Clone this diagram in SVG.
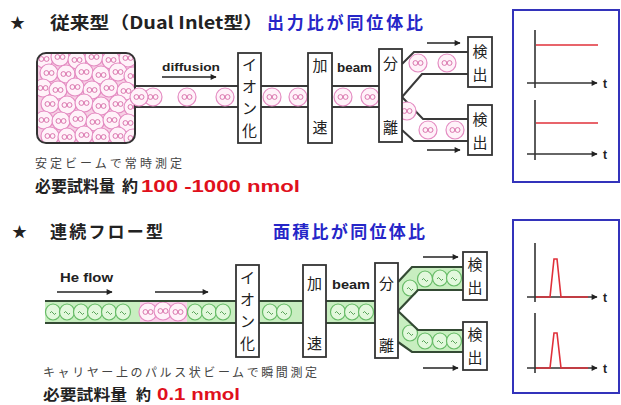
<svg xmlns="http://www.w3.org/2000/svg" width="621" height="405" viewBox="0 0 621 405">
  <style>
    .box { fill: #ffffff; stroke: #333333; stroke-width: 1.8; }
    .tube { fill: none; stroke: #3a3a3a; stroke-width: 2; }
    .gtube { fill: none; stroke: #344a34; stroke-width: 2.2; }
    .arrow { fill: none; stroke: #222222; stroke-width: 1.6; marker-end: url(#head); }
    .axis { fill: none; stroke: #333333; stroke-width: 1.6; marker-end: url(#head); }
    .vaxis { fill: none; stroke: #333333; stroke-width: 1.6; }
    .panel { fill: #ffffff; stroke: #3333bb; stroke-width: 2; }
    .sig { fill: none; stroke: #e0303a; stroke-width: 1.6; }
    .jp { font-family: "Noto Sans CJK JP", "Noto Sans", sans-serif; }
    .lbl { font-family: "Noto Sans CJK JP", sans-serif; font-size: 15px; fill: #222222; text-anchor: middle; }
    .en { font-family: "Liberation Sans", Arial, sans-serif; font-weight: bold; fill: #222222; }
    .title { font-size: 17px; font-weight: bold; fill: #222222; }
    .blue { font-size: 17px; font-weight: bold; fill: #2626c8; }
    .red { fill: #e0101c; }
  </style>
  <defs>
    <marker id="head" viewBox="0 0 10 10" refX="9" refY="5" markerWidth="7" markerHeight="6" markerUnits="userSpaceOnUse" orient="auto">
      <path d="M0,0 L10,5 L0,10 z" fill="#222222"/>
    </marker>
    <!-- pink sample molecule -->
    <g id="pm">
      <circle r="9" fill="#fff2f9" stroke="#e48cc2" stroke-width="1.2"/>
      <circle cx="-2.6" cy="0" r="2.4" fill="none" stroke="#d66aa6" stroke-width="0.9"/>
      <circle cx="2.6" cy="0" r="2.4" fill="none" stroke="#d66aa6" stroke-width="0.9"/>
    </g>
    <!-- green carrier molecule -->
    <g id="gm">
      <ellipse rx="7.5" ry="8" fill="#e2f8dc" stroke="#66bb66" stroke-width="1.2"/>
      <path d="M-3,1 q1.5,-3 3,0 q1.5,3 3,0" fill="none" stroke="#4a9a4a" stroke-width="0.9"/>
    </g>
    <clipPath id="resClip">
      <rect x="37" y="53" width="98" height="90" rx="9"/>
    </clipPath>
  </defs>

  <rect width="621" height="405" fill="#ffffff"/>

  <!-- headings -->
  <g id="heading-dual">
    <text x="10" y="28" class="jp" font-size="15" fill="#222">★</text>
    <text x="50" y="29" class="jp title" textLength="213" lengthAdjust="spacingAndGlyphs">従来型（Dual Inlet型）</text>
    <text x="267" y="29" class="jp blue" textLength="156" lengthAdjust="spacing">出力比が同位体比</text>
  </g>
  <g id="heading-flow">
    <text x="12" y="237" class="jp" font-size="15" fill="#222">★</text>
    <text x="50" y="238" class="jp title" textLength="113" lengthAdjust="spacing">連続フロー型</text>
    <text x="273" y="238" class="jp blue" textLength="152" lengthAdjust="spacing">面積比が同位体比</text>
  </g>

  <!-- connectors: gas lines, beams and flow arrows -->
  <g id="connectors">
    <!-- dual inlet line -->
    <rect x="135" y="86" width="244" height="21" fill="#ffffff"/>
    <line x1="135" y1="86" x2="379" y2="86" class="tube"/>
    <line x1="135" y1="107" x2="379" y2="107" class="tube"/>
    <use href="#pm" x="153" y="97"/>
    <use href="#pm" x="187" y="97"/>
    <use href="#pm" x="225" y="97"/>
    <use href="#pm" x="272" y="97"/>
    <use href="#pm" x="298" y="97"/>
    <use href="#pm" x="343" y="97"/>
    <use href="#pm" x="370" y="97"/>
    <!-- split beams -->
    <path d="M402,64 L414,52 L468,52" class="tube"/>
    <path d="M402,97 L422,74 L468,74" class="tube"/>
    <path d="M402,97 L423,119 L468,119" class="tube"/>
    <path d="M402,130 L414,141 L468,141" class="tube"/>
    <use href="#pm" x="418" y="63"/>
    <use href="#pm" x="447" y="63"/>
    <use href="#pm" x="407" y="111"/>
    <use href="#pm" x="428" y="130"/>
    <use href="#pm" x="455" y="130"/>
    <line x1="162" y1="77" x2="216" y2="77" class="arrow"/>
    <line x1="427" y1="43" x2="460" y2="43" class="arrow"/>
    <line x1="427" y1="150" x2="460" y2="150" class="arrow"/>

    <!-- continuous flow line -->
    <rect x="45" y="301" width="330" height="22" fill="#c8eec0"/>
    <rect x="140" y="301" width="47" height="22" fill="#f9d2ea"/>
    <use href="#gm" x="53" y="312"/>
    <use href="#gm" x="67" y="312"/>
    <use href="#gm" x="81" y="312"/>
    <use href="#gm" x="95" y="312"/>
    <use href="#gm" x="109" y="312"/>
    <use href="#gm" x="123" y="312"/>
    <use href="#pm" x="148" y="312"/>
    <use href="#pm" x="163" y="311"/>
    <use href="#pm" x="178" y="312"/>
    <use href="#gm" x="195" y="312"/>
    <use href="#gm" x="209" y="312"/>
    <use href="#gm" x="223" y="312"/>
    <use href="#gm" x="270" y="312"/>
    <use href="#gm" x="284" y="312"/>
    <use href="#gm" x="338" y="312"/>
    <use href="#gm" x="352" y="312"/>
    <use href="#gm" x="366" y="312"/>
    <line x1="45" y1="301" x2="375" y2="301" class="gtube"/>
    <line x1="45" y1="323" x2="375" y2="323" class="gtube"/>
    <polygon points="398,282 412,267 463,267 463,290 418,290 398,311" fill="#c8eec0"/>
    <polygon points="398,311 418,330 463,330 463,352 412,352 398,342" fill="#c8eec0"/>
    <use href="#gm" x="410" y="288"/>
    <use href="#gm" x="425" y="279"/>
    <use href="#gm" x="440" y="278"/>
    <use href="#gm" x="454" y="278"/>
    <use href="#gm" x="410" y="333"/>
    <use href="#gm" x="425" y="341"/>
    <use href="#gm" x="440" y="341"/>
    <use href="#gm" x="454" y="341"/>
    <path d="M398,282 L412,267 L463,267" class="gtube"/>
    <path d="M398,311 L418,290 L463,290" class="gtube"/>
    <path d="M398,311 L418,330 L463,330" class="gtube"/>
    <path d="M398,342 L412,352 L463,352" class="gtube"/>
    <line x1="57" y1="292" x2="112" y2="292" class="arrow"/>
    <line x1="155" y1="292" x2="208" y2="292" class="arrow"/>
    <line x1="423" y1="257" x2="458" y2="257" class="arrow"/>
    <line x1="423" y1="368" x2="458" y2="368" class="arrow"/>
  </g>

  <!-- flow labels -->
  <text x="162" y="71" class="en" font-size="11" textLength="58" lengthAdjust="spacingAndGlyphs">diffusion</text>
  <text x="337" y="72" class="en" font-size="12" textLength="35" lengthAdjust="spacingAndGlyphs">beam</text>
  <text x="60" y="282" class="en" font-size="12" textLength="53" lengthAdjust="spacingAndGlyphs">He flow</text>
  <text x="332" y="289" class="en" font-size="12" textLength="38" lengthAdjust="spacingAndGlyphs">beam</text>

  <!-- sample reservoir -->
  <g id="reservoir">
    <rect x="37" y="53" width="98" height="90" rx="9" fill="#f7cfe4"/>
    <g clip-path="url(#resClip)">
      <use href="#pm" x="44" y="59"/><use href="#pm" x="60" y="57"/><use href="#pm" x="77" y="60"/><use href="#pm" x="94" y="57"/><use href="#pm" x="111" y="60"/><use href="#pm" x="128" y="58"/>
      <use href="#pm" x="49" y="73"/><use href="#pm" x="66" y="74"/><use href="#pm" x="84" y="72"/><use href="#pm" x="101" y="75"/><use href="#pm" x="118" y="72"/><use href="#pm" x="133" y="76"/>
      <use href="#pm" x="43" y="88"/><use href="#pm" x="58" y="90"/><use href="#pm" x="75" y="87"/><use href="#pm" x="92" y="90"/><use href="#pm" x="109" y="88"/><use href="#pm" x="126" y="91"/>
      <use href="#pm" x="50" y="104"/><use href="#pm" x="67" y="105"/><use href="#pm" x="84" y="103"/><use href="#pm" x="101" y="106"/><use href="#pm" x="118" y="104"/><use href="#pm" x="133" y="107"/>
      <use href="#pm" x="44" y="120"/><use href="#pm" x="61" y="121"/><use href="#pm" x="78" y="119"/><use href="#pm" x="95" y="122"/><use href="#pm" x="112" y="120"/><use href="#pm" x="128" y="123"/>
      <use href="#pm" x="50" y="136"/><use href="#pm" x="67" y="137"/><use href="#pm" x="84" y="135"/><use href="#pm" x="101" y="137"/><use href="#pm" x="118" y="136"/><use href="#pm" x="133" y="138"/>
    </g>
    <rect x="37" y="53" width="98" height="90" rx="9" fill="none" stroke="#333" stroke-width="2"/>
    <use href="#pm" x="139" y="97"/>
  </g>

  <!-- dual inlet instrument blocks -->
  <g id="ionize-dual">
    <rect x="238" y="53" width="23" height="90" class="box"/>
    <text x="249.5" y="70" class="lbl">イ</text>
    <text x="249.5" y="92" class="lbl">オ</text>
    <text x="249.5" y="114" class="lbl">ン</text>
    <text x="249.5" y="136" class="lbl">化</text>
  </g>
  <g id="accel-dual">
    <rect x="308" y="53" width="24" height="90" class="box"/>
    <text x="320" y="71" class="lbl">加</text>
    <text x="320" y="133" class="lbl">速</text>
  </g>
  <g id="separate-dual">
    <rect x="379" y="49" width="23" height="93" class="box"/>
    <text x="390.5" y="69" class="lbl">分</text>
    <text x="390.5" y="133" class="lbl">離</text>
  </g>
  <g id="detector-dual-1">
    <rect x="468" y="37" width="24" height="50" class="box"/>
    <text x="480" y="57" class="lbl">検</text>
    <text x="480" y="80" class="lbl">出</text>
  </g>
  <g id="detector-dual-2">
    <rect x="468" y="105" width="24" height="50" class="box"/>
    <text x="480" y="125" class="lbl">検</text>
    <text x="480" y="148" class="lbl">出</text>
  </g>

  <!-- continuous flow instrument blocks -->
  <g id="ionize-flow">
    <rect x="236" y="265" width="23" height="92" class="box"/>
    <text x="247.5" y="283" class="lbl">イ</text>
    <text x="247.5" y="305" class="lbl">オ</text>
    <text x="247.5" y="327" class="lbl">ン</text>
    <text x="247.5" y="349" class="lbl">化</text>
  </g>
  <g id="accel-flow">
    <rect x="303" y="265" width="23" height="92" class="box"/>
    <text x="314.5" y="289" class="lbl">加</text>
    <text x="314.5" y="349" class="lbl">速</text>
  </g>
  <g id="separate-flow">
    <rect x="375" y="263" width="23" height="95" class="box"/>
    <text x="386.5" y="289" class="lbl">分</text>
    <text x="386.5" y="351" class="lbl">離</text>
  </g>
  <g id="detector-flow-1">
    <rect x="463" y="252" width="24" height="48" class="box"/>
    <text x="475" y="270" class="lbl">検</text>
    <text x="475" y="293" class="lbl">出</text>
  </g>
  <g id="detector-flow-2">
    <rect x="463" y="322" width="24" height="48" class="box"/>
    <text x="475" y="340" class="lbl">検</text>
    <text x="475" y="363" class="lbl">出</text>
  </g>

  <!-- output signal panels -->
  <g id="signal-dual">
    <rect x="513" y="10" width="106" height="172" class="panel"/>
    <line x1="535" y1="30" x2="535" y2="88" class="vaxis"/>
    <line x1="527" y1="83" x2="597" y2="83" class="axis"/>
    <line x1="536" y1="45" x2="598" y2="45" class="sig"/>
    <text x="603" y="88" class="en" font-size="12" font-weight="normal">t</text>
    <line x1="535" y1="100" x2="535" y2="160" class="vaxis"/>
    <line x1="527" y1="154" x2="597" y2="154" class="axis"/>
    <line x1="536" y1="123" x2="598" y2="123" class="sig"/>
    <text x="603" y="159" class="en" font-size="12" font-weight="normal">t</text>
  </g>
  <g id="signal-flow">
    <rect x="513" y="220" width="106" height="173" class="panel"/>
    <line x1="535" y1="243" x2="535" y2="302" class="vaxis"/>
    <line x1="527" y1="297" x2="597" y2="297" class="axis"/>
    <path d="M536,297 L550,297 L554,259 L557,259 L561,297 L588,297" class="sig"/>
    <text x="603" y="302" class="en" font-size="12" font-weight="normal">t</text>
    <line x1="535" y1="313" x2="535" y2="373" class="vaxis"/>
    <line x1="527" y1="368" x2="597" y2="368" class="axis"/>
    <path d="M536,368 L550,368 L554,333 L557,333 L561,368 L588,368" class="sig"/>
    <text x="603" y="373" class="en" font-size="12" font-weight="normal">t</text>
  </g>

  <!-- notes -->
  <g id="note-dual">
    <text x="35" y="168" class="jp" font-size="12" fill="#444" textLength="147" lengthAdjust="spacing">安定ビームで常時測定</text>
    <text x="35" y="192" class="jp" font-size="16" font-weight="bold" fill="#222" textLength="80" lengthAdjust="spacingAndGlyphs">必要試料量</text>
    <text x="122" y="192" class="jp" font-size="16" font-weight="bold" fill="#222">約</text>
    <text x="141" y="192" class="en red" font-size="17" textLength="159" lengthAdjust="spacingAndGlyphs">100 -1000 nmol</text>
  </g>
  <g id="note-flow">
    <text x="43" y="377" class="jp" font-size="12" fill="#444" textLength="274" lengthAdjust="spacing">キャリヤー上のパルス状ビームで瞬間測定</text>
    <text x="43" y="400" class="jp" font-size="15" font-weight="bold" fill="#222" textLength="84" lengthAdjust="spacingAndGlyphs">必要試料量</text>
    <text x="136" y="400" class="jp" font-size="15" font-weight="bold" fill="#222">約</text>
    <text x="157" y="400" class="en red" font-size="16" textLength="83" lengthAdjust="spacingAndGlyphs">0.1 nmol</text>
  </g>
</svg>
